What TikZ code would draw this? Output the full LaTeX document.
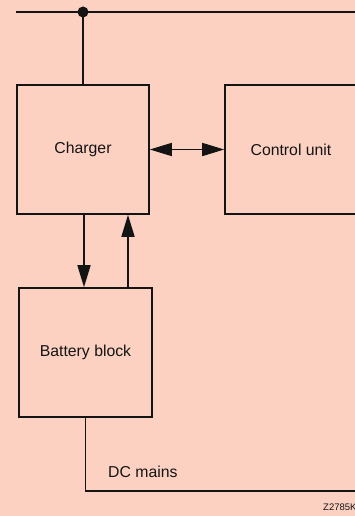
\documentclass[tikz,border=0pt]{standalone}
\usepackage{fontspec}
\setmainfont{Liberation Sans}
\usetikzlibrary{arrows.meta, positioning, calc}
\usepackage{xcolor}
\definecolor{ink}  {HTML}{141414}
\definecolor{paper}{HTML}{FCD1C2}
\tikzset{
  blk/.style  = {draw=ink, line width=1.6pt, fill=paper,
                 minimum height=129pt, inner sep=0pt,
                 font=\fontsize{15.8}{19}\selectfont, text=ink},
  wire/.style = {draw=ink, line width=1.6pt},
  arr/.style  = {wire, -{Triangle[length=22pt, width=13pt]}},
  darr/.style = {wire, {Triangle[length=22pt, width=13pt]}-{Triangle[length=22pt, width=13pt]}},
  labl/.style = {font=\fontsize{15.8}{19}\selectfont, text=ink, inner sep=0pt},
  tag/.style  = {font=\fontsize{9.5}{11}\selectfont, text=ink, inner sep=0pt},
}
\begin{document}
\begin{tikzpicture}[x=1pt, y=-1pt]
  \fill[paper] (0,0) rectangle (355,516);
  \useasboundingbox (0,0) rectangle (355,516);

  \node[blk, minimum width=132pt] (charger) at (83,149.5) {Charger};
  \node[blk, minimum width=132pt] (control) at (291,149.5) {Control unit};
  \node[blk, minimum width=133pt] (battery) at (85.5,352.5) {Battery block};

  \coordinate (busL) at (16,12);
  \coordinate (busR) at (360,12);
  \coordinate (tap) at (charger.north |- busL);
  \coordinate (mainsR) at (360,491);

  \draw[wire] (busL) -- (busR);
  \fill[ink] (tap) circle (5.5pt);
  \draw[wire] (tap) -- (charger.north);

  \draw[darr] (charger.east) -- (control.west);
  \draw[arr] ([xshift=1pt]charger.south) -- ([xshift=1pt]charger.south |- battery.north);
  \draw[arr] ([xshift=45pt]charger.south |- battery.north) -- ([xshift=45pt]charger.south);

  \draw[wire] (battery.south) |- (mainsR);
  \node[labl, anchor=base west] (mains) at (108,477) {DC mains};
  \node[tag, anchor=base west] (code) at (323,510) {Z2785K};
\end{tikzpicture}
\end{document}
